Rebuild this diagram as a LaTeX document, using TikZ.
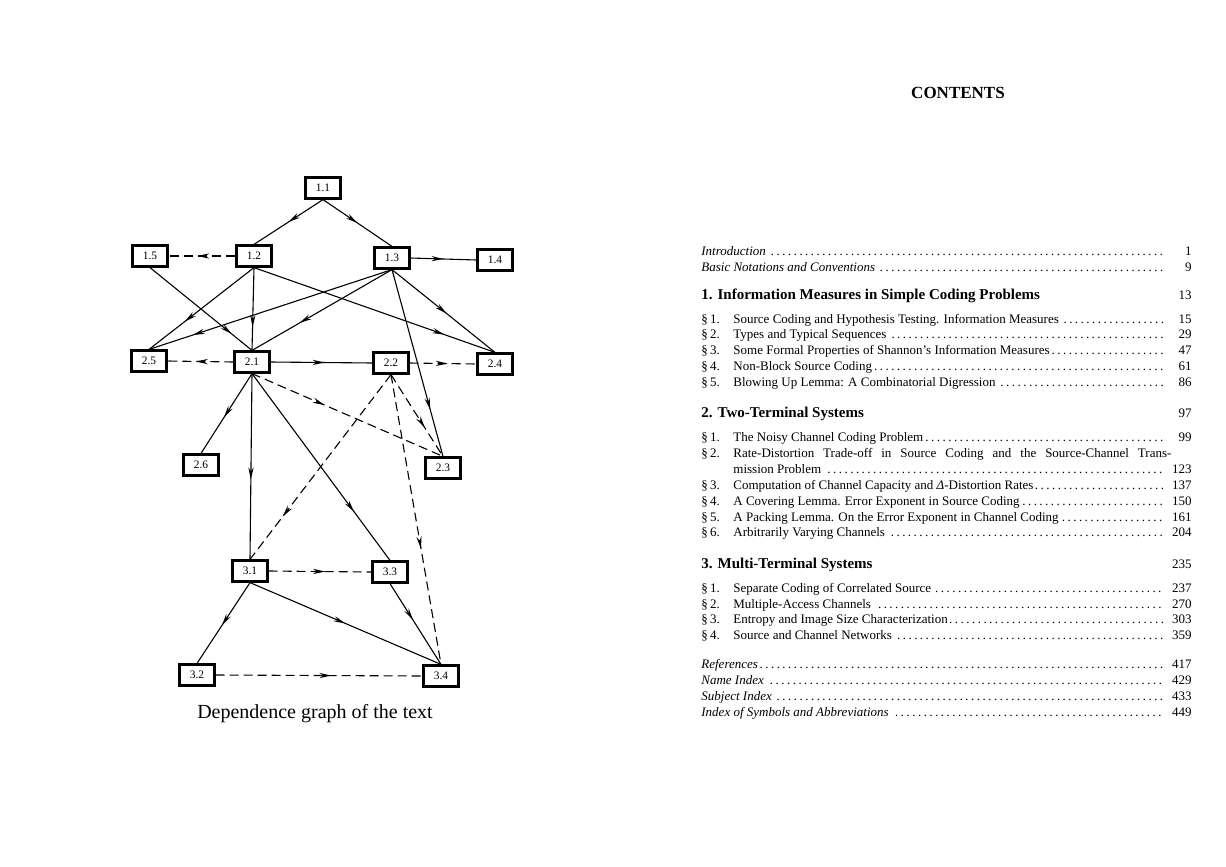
\documentclass[tikz,border=0pt]{standalone}
\usepackage{fontspec}
\setmainfont{Liberation Serif}
\usepackage{tikz}
\usetikzlibrary{arrows.meta,positioning,decorations.markings}

\begin{document}
\begin{tikzpicture}[x=0.5pt,y=-0.5pt]
  \tikzstyle{sec}=[draw,line width=1.1pt,minimum width=17.5pt,minimum height=10.5pt,inner sep=0pt,
    font=\fontsize{5.7}{6}\selectfont]
  \tikzstyle{f}=[line width=0.55pt]
  \tikzstyle{d}=[line width=0.55pt,dash pattern=on 4.5pt off 2.5pt]
  \tikzset{a/.style={postaction={decorate},decoration={markings,
    mark=at position #1 with {\arrow{Stealth[length=6pt,width=2.6pt]}}}}}
  \tikzstyle{toc}=[anchor=base west,inner sep=0pt,font=\fontsize{6.5}{8}\selectfont]
  \tikzstyle{num}=[anchor=base east,inner sep=0pt,font=\fontsize{6.5}{8}\selectfont]
  \tikzstyle{chap}=[anchor=base west,inner sep=0pt,font=\fontsize{7.5}{9}\selectfont\bfseries]

  \useasboundingbox (0,0) rectangle (1226,867);

  % dependence graph
  \node[sec] (s11) at (323,188) {1.1};
  \node[sec] (s15) at (150,256) {1.5};
  \node[sec] (s12) at (254,256) {1.2};
  \node[sec] (s13) at (392,258) {1.3};
  \node[sec] (s14) at (495,260) {1.4};
  \node[sec] (s25) at (149,361) {2.5};
  \node[sec] (s21) at (252,362) {2.1};
  \node[sec] (s22) at (391,363) {2.2};
  \node[sec] (s24) at (495,364) {2.4};
  \node[sec] (s26) at (201,465) {2.6};
  \node[sec] (s23) at (443,468) {2.3};
  \node[sec] (s31) at (250,571) {3.1};
  \node[sec] (s33) at (390,572) {3.3};
  \node[sec] (s32) at (197,675) {3.2};
  \node[sec] (s34) at (441,676) {3.4};
  \node[anchor=base,inner sep=0pt,font=\fontsize{10}{12}\selectfont] (cap) at (315,718) {Dependence graph of the text};

  \draw[f,a=0.5] (s11.south) -- (s12.north);
  \draw[f,a=0.5] (s11.south) -- (s13.north);
  \draw[d,a=0.57] (s12.west) -- (s15.east);
  \draw[f,a=0.5] (s13.east) -- (s14.west);
  \draw[f,a=0.8] (s15.south) -- (s21.north);
  \draw[f,a=0.66] (s12.south) -- (s25.north);
  \draw[f,a=0.72] (s12.south) -- (s21.north);
  \draw[f,a=0.79] (s12.south) -- (s24.north);
  \draw[f,a=0.82] (s13.south) -- (s25.north);
  \draw[f,a=0.66] (s13.south) -- (s21.north);
  \draw[f,a=0.53] (s13.south) -- (s24.north);
  \draw[f,a=0.75] (s13.south) -- (s23.north);
  \draw[d,a=0.57] (s21.west) -- (s25.east);
  \draw[f,a=0.53] (s21.east) -- (s22.west);
  \draw[d,a=0.57] (s22.east) -- (s24.west);
  \draw[d,a=0.38] (s21.south) -- (s23.north);
  \draw[d,a=0.65] (s22.south) -- (s23.north);
  \draw[f,a=0.55] (s21.south) -- (s26.north);
  \draw[f,a=0.57] (s21.south) -- (s31.north);
  \draw[f,a=0.74] (s21.south) -- (s33.north);
  \draw[d,a=0.77] (s22.south) -- (s31.north);
  \draw[d,a=0.6] (s22.south) -- (s34.north);
  \draw[d,a=0.55] (s31.east) -- (s33.west);
  \draw[f,a=0.53] (s31.south) -- (s32.north);
  \draw[f,a=0.5] (s31.south) -- (s34.north);
  \draw[f,a=0.45] (s33.south) -- (s34.north);
  \draw[d,a=0.56] (s32.east) -- (s34.west);

  % contents page
  \node[anchor=base,inner sep=0pt,font=\fontsize{8.5}{10}\selectfont\bfseries] (cont) at (958,98) {CONTENTS};

  \node[toc] (intro) at (701,255) {\makebox[232pt][l]{\itshape Introduction \dotfill}};
  \node[num] (intro-pg) at (1192,255) {1};
  \node[toc] (notat) at (701,271) {\makebox[232pt][l]{\itshape Basic Notations and Conventions \dotfill}};
  \node[num] (notat-pg) at (1192,271) {9};

  \node[chap] (ch1) at (701,299) {1. Information Measures in Simple Coding Problems};
  \node[num] (ch1-pg) at (1192,299) {13};
  \node[toc] (c1s1) at (701,323) {\S\,1.};
  \node[toc] (c1s1-t) at (733,323) {\makebox[216pt][l]{Source Coding and Hypothesis Testing. Information Measures \dotfill}};
  \node[num] (c1s1-pg) at (1192,323) {15};
  \node[toc] (c1s2) at (701,338) {\S\,2.};
  \node[toc] (c1s2-t) at (733,338) {\makebox[216pt][l]{Types and Typical Sequences \dotfill}};
  \node[num] (c1s2-pg) at (1192,338) {29};
  \node[toc] (c1s3) at (701,354) {\S\,3.};
  \node[toc] (c1s3-t) at (733,354) {\makebox[216pt][l]{Some Formal Properties of Shannon's Information Measures\dotfill}};
  \node[num] (c1s3-pg) at (1192,354) {47};
  \node[toc] (c1s4) at (701,370) {\S\,4.};
  \node[toc] (c1s4-t) at (733,370) {\makebox[216pt][l]{Non-Block Source Coding\dotfill}};
  \node[num] (c1s4-pg) at (1192,370) {61};
  \node[toc] (c1s5) at (701,386) {\S\,5.};
  \node[toc] (c1s5-t) at (733,386) {\makebox[216pt][l]{Blowing Up Lemma: A Combinatorial Digression \dotfill}};
  \node[num] (c1s5-pg) at (1192,386) {86};

  \node[chap] (ch2) at (701,417) {2. Two-Terminal Systems};
  \node[num] (ch2-pg) at (1192,417) {97};
  \node[toc] (c2s1) at (701,441) {\S\,1.};
  \node[toc] (c2s1-t) at (733,441) {\makebox[216pt][l]{The Noisy Channel Coding Problem\dotfill}};
  \node[num] (c2s1-pg) at (1192,441) {99};
  \node[toc] (c2s2) at (701,457) {\S\,2.};
  \node[toc] (c2s2-t) at (733,457) {\makebox[219pt][s]{Rate-Distortion Trade-off in Source Coding and the Source-Channel Trans-}};
  \node[toc] (c2s2-u) at (733,473) {\makebox[216pt][l]{mission Problem \dotfill}};
  \node[num] (c2s2-pg) at (1192,473) {123};
  \node[toc] (c2s3) at (701,489) {\S\,3.};
  \node[toc] (c2s3-t) at (733,489) {\makebox[216pt][l]{Computation of Channel Capacity and {\itshape Δ}-Distortion Rates\dotfill}};
  \node[num] (c2s3-pg) at (1192,489) {137};
  \node[toc] (c2s4) at (701,505) {\S\,4.};
  \node[toc] (c2s4-t) at (733,505) {\makebox[216pt][l]{A Covering Lemma. Error Exponent in Source Coding\dotfill}};
  \node[num] (c2s4-pg) at (1192,505) {150};
  \node[toc] (c2s5) at (701,521) {\S\,5.};
  \node[toc] (c2s5-t) at (733,521) {\makebox[216pt][l]{A Packing Lemma. On the Error Exponent in Channel Coding\dotfill}};
  \node[num] (c2s5-pg) at (1192,521) {161};
  \node[toc] (c2s6) at (701,536) {\S\,6.};
  \node[toc] (c2s6-t) at (733,536) {\makebox[216pt][l]{Arbitrarily Varying Channels \dotfill}};
  \node[num] (c2s6-pg) at (1192,536) {204};

  \node[chap] (ch3) at (701,568) {3. Multi-Terminal Systems};
  \node[num] (ch3-pg) at (1192,568) {235};
  \node[toc] (c3s1) at (701,592) {\S\,1.};
  \node[toc] (c3s1-t) at (733,592) {\makebox[216pt][l]{Separate Coding of Correlated Source\dotfill}};
  \node[num] (c3s1-pg) at (1192,592) {237};
  \node[toc] (c3s2) at (701,608) {\S\,2.};
  \node[toc] (c3s2-t) at (733,608) {\makebox[216pt][l]{Multiple-Access Channels \dotfill}};
  \node[num] (c3s2-pg) at (1192,608) {270};
  \node[toc] (c3s3) at (701,623) {\S\,3.};
  \node[toc] (c3s3-t) at (733,623) {\makebox[216pt][l]{Entropy and Image Size Characterization\dotfill}};
  \node[num] (c3s3-pg) at (1192,623) {303};
  \node[toc] (c3s4) at (701,639) {\S\,4.};
  \node[toc] (c3s4-t) at (733,639) {\makebox[216pt][l]{Source and Channel Networks \dotfill}};
  \node[num] (c3s4-pg) at (1192,639) {359};

  \node[toc] (refs) at (701,668) {\makebox[232pt][l]{\itshape References\dotfill}};
  \node[num] (refs-pg) at (1192,668) {417};
  \node[toc] (nidx) at (701,684) {\makebox[232pt][l]{\itshape Name Index \dotfill}};
  \node[num] (nidx-pg) at (1192,684) {429};
  \node[toc] (sidx) at (701,700) {\makebox[232pt][l]{\itshape Subject Index \dotfill}};
  \node[num] (sidx-pg) at (1192,700) {433};
  \node[toc] (symb) at (701,716) {\makebox[232pt][l]{\itshape Index of Symbols and Abbreviations \dotfill}};
  \node[num] (symb-pg) at (1192,716) {449};
\end{tikzpicture}
\end{document}
